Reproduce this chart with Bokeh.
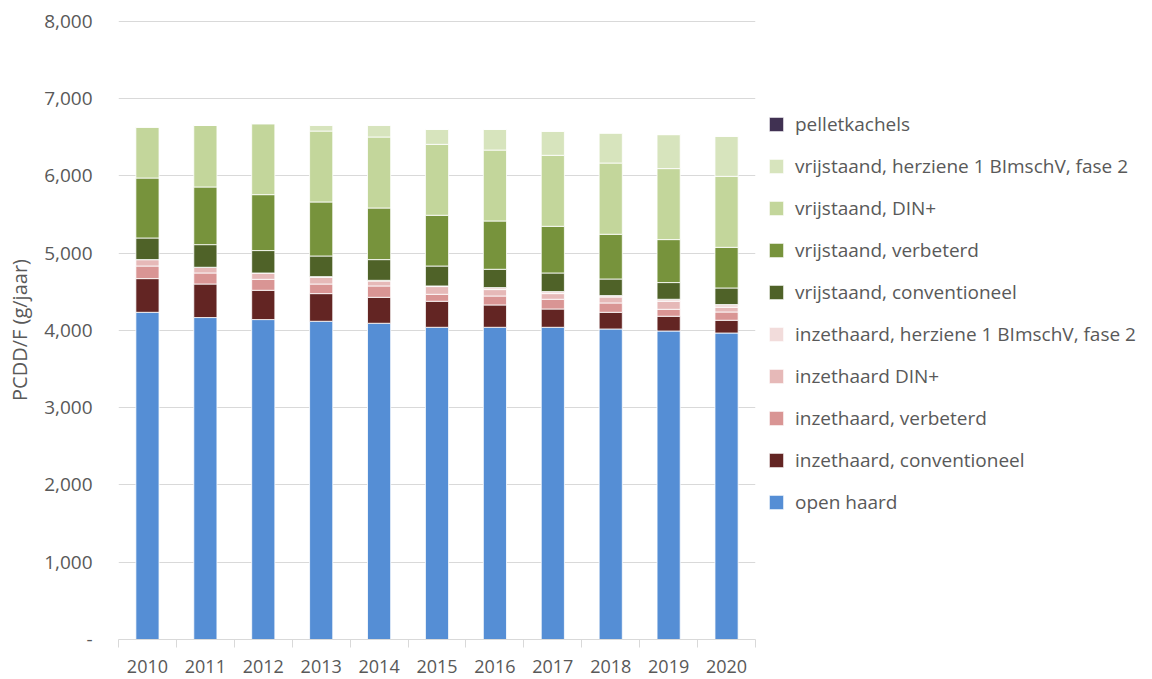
from bokeh.plotting import figure
from bokeh.models import (Range1d, FixedTicker, CustomJSTickFormatter, Legend, LegendItem,
                          ColumnDataSource)
from bokeh.embed import file_html
from bokeh.resources import INLINE

years = ["2010", "2011", "2012", "2013", "2014", "2015", "2016", "2017", "2018", "2019", "2020"]

open_haard = [4235, 4167, 4141, 4119, 4093, 4041, 4041, 4041, 4019, 3993, 3967]
inzet_conv = [436, 434, 379, 358, 336, 337, 289, 237, 216, 191, 165]
inzet_verb = [163, 143, 142, 124, 147, 90, 116, 126, 121, 90, 107]
inzet_din = [83, 74, 82, 87, 64, 100, 83, 73, 77, 104, 61]
inzet_herz = [0, 0, 0, 9, 9, 8, 26, 26, 18, 26, 35]
vrij_conv = [280, 293, 290, 267, 268, 258, 237, 241, 215, 216, 215]
vrij_verb = [776, 746, 724, 699, 668, 657, 625, 604, 579, 556, 526]
vrij_din = [660, 798, 919, 918, 919, 918, 918, 919, 922, 919, 919]
vrij_herz = [0, 0, 0, 74, 151, 194, 268, 311, 388, 440, 518]
pellet = [0, 0, 0, 0, 0, 0, 0, 0, 0, 0, 0]

series_keys = ["open_haard", "inzet_conv", "inzet_verb", "inzet_din", "inzet_herz",
               "vrij_conv", "vrij_verb", "vrij_din", "vrij_herz", "pellet"]
series_labels = ["open haard", "inzethaard, conventioneel", "inzethaard, verbeterd",
                 "inzethaard DIN+", "inzethaard, herziene 1 BImschV, fase 2",
                 "vrijstaand, conventioneel", "vrijstaand, verbeterd", "vrijstaand, DIN+",
                 "vrijstaand, herziene 1 BImschV, fase 2", "pelletkachels"]
series_colors = ["#558ED5", "#632523", "#D99594", "#E6B9B8", "#F2DCDB",
                 "#4F6228", "#77933C", "#C3D69B", "#D7E4BD", "#403152"]

data = dict(x=list(range(len(years))), open_haard=open_haard, inzet_conv=inzet_conv,
            inzet_verb=inzet_verb, inzet_din=inzet_din, inzet_herz=inzet_herz,
            vrij_conv=vrij_conv, vrij_verb=vrij_verb, vrij_din=vrij_din,
            vrij_herz=vrij_herz, pellet=pellet)
source = ColumnDataSource(data)

FONT = "Open Sans"
GREY = "#595959"

p = figure(output_backend="svg", toolbar_location=None,
           frame_width=637, frame_height=619,
           x_range=Range1d(-0.5, len(years) - 0.5), y_range=Range1d(0, 8012),
           min_border_left=118, min_border_top=20, min_border_right=0,
           min_border_bottom=40)
p.outline_line_color = None
p.background_fill_color = "white"
p.border_fill_color = "white"

renderers = p.vbar_stack(series_keys, x="x", width=0.4, source=source,
                         color=series_colors, line_color="white", line_width=0.8)

# x axis
p.xaxis.ticker = FixedTicker(ticks=list(range(len(years))),
                             minor_ticks=[i - 0.5 for i in range(len(years) + 1)])
p.xaxis.formatter = CustomJSTickFormatter(args=dict(years=years),
                                          code="const i = Math.round(tick); return (i >= 0 && i < years.length) ? years[i] : '';")
p.xaxis.major_tick_line_color = None
p.xaxis.major_tick_out = 0
p.xaxis.major_tick_in = 0
p.xaxis.minor_tick_line_color = "#D9D9D9"
p.xaxis.minor_tick_out = 8
p.xaxis.minor_tick_in = 0
p.xaxis.axis_line_color = "#D9D9D9"
p.xaxis.major_label_standoff = 12
p.xaxis.major_label_text_font = FONT
p.xaxis.major_label_text_font_size = "18px"
p.xaxis.major_label_text_color = GREY
p.xgrid.grid_line_color = None

# y axis
p.yaxis.ticker = FixedTicker(ticks=[0, 1000, 2000, 3000, 4000, 5000, 6000, 7000, 8000])
p.yaxis.formatter = CustomJSTickFormatter(code="return tick == 0 ? '-' : tick.toLocaleString('en-US');")
p.yaxis.axis_line_color = None
p.yaxis.major_tick_line_color = None
p.yaxis.minor_tick_line_color = None
p.yaxis.major_tick_out = 0
p.yaxis.major_label_standoff = 26
p.yaxis.major_label_text_font = FONT
p.yaxis.major_label_text_font_size = "19px"
p.yaxis.major_label_text_color = GREY
p.yaxis.axis_label = "PCDD/F (g/jaar)"
p.yaxis.axis_label_text_font = FONT
p.yaxis.axis_label_text_font_size = "20px"
p.yaxis.axis_label_text_font_style = "normal"
p.yaxis.axis_label_text_color = GREY
p.yaxis.axis_label_standoff = 8
p.ygrid.grid_line_color = "#D9D9D9"
p.ygrid.grid_line_width = 1

items = [LegendItem(label=lab, renderers=[r]) for lab, r in zip(series_labels, renderers)]
items.reverse()
legend = Legend(items=items, location=(12, 124), orientation="vertical",
                glyph_width=18, glyph_height=18, label_standoff=10,
                label_height=20, spacing=16, padding=0, margin=12,
                border_line_color=None, background_fill_alpha=0,
                label_text_font=FONT, label_text_font_size="19px",
                label_text_color=GREY)
p.add_layout(legend, "right")

open("out.html", "w").write(file_html(p, INLINE))
